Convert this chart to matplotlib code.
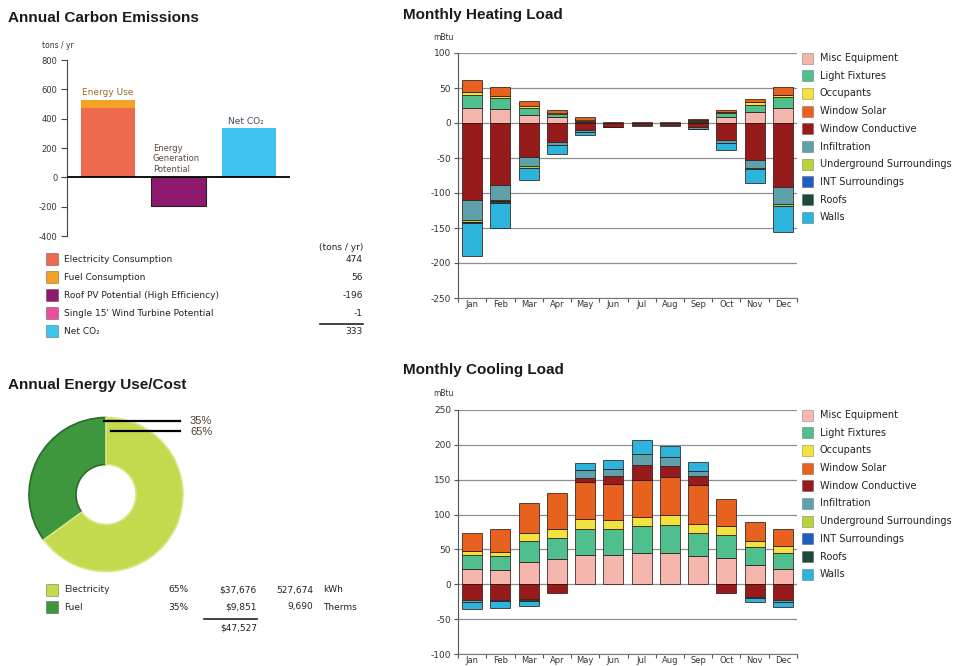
import numpy as np
import matplotlib
matplotlib.use("Agg")
import matplotlib.pyplot as plt
from matplotlib.patches import Rectangle

plt.rcParams['font.family'] = ['DejaVu Sans']
plt.rcParams['axes.unicode_minus'] = False

W, H = 965, 666

# ------------------------------
# Carbon emissions data
# ------------------------------
carbon_items = ["Electricity Consumption", "Fuel Consumption",
                "Roof PV Potential (High Efficiency)",
                "Single 15' Wind Turbine Potential", "Net CO\u2082"]
carbon_values = [474, 56, -196, -1, 333]
carbon_colors = ["#ee6a4e", "#f4a126", "#8e1a70", "#e84f9c", "#3fc3f1"]

# ------------------------------
# Energy use / cost data
# ------------------------------
energy_names = ["Electricity", "Fuel"]
energy_share = [65, 35]
energy_cost = ["$37,676", "$9,851"]
energy_amount = ["527,674", "9,690"]
energy_units = ["kWh", "Therms"]
energy_total = "$47,527"
energy_colors = ["#c4da4e", "#3f973d"]

# ------------------------------
# Monthly loads (mBtu)
# ------------------------------
months = ["Jan", "Feb", "Mar", "Apr", "May", "Jun",
          "Jul", "Aug", "Sep", "Oct", "Nov", "Dec"]
load_names = ["Misc Equipment", "Light Fixtures", "Occupants", "Window Solar",
              "Window Conductive", "Infiltration", "Underground Surroundings",
              "INT Surroundings", "Roofs", "Walls"]
load_colors = ["#f5b6ae", "#4fbf8d", "#f1e23e", "#e8621f", "#981b1b",
               "#5fa1ab", "#b8d43b", "#1f5dc0", "#1e4a3c", "#2db4dc"]

heat_misc = [22, 20, 12, 8, 2, 2, 1, 1, 2, 9, 16, 22]
heat_light = [18, 16, 10, 5, 1, 0, 0, 0, 1, 6, 10, 15]
heat_occ = [4, 3, 3, 2, 2, 0, 0, 0, 1, 1, 4, 3]
heat_solar = [18, 12, 6, 4, 3, 0, 0, 0, 2, 3, 5, 11]
heat_cond = [-110, -88, -48, -27, -10, -5, -3, -3, -6, -24, -53, -92]
heat_infil = [-28, -22, -14, -4, -3, -1, -1, -1, -2, -4, -11, -24]
heat_ground = [-3, -2, -2, 0, 0, 0, 0, 0, 0, 0, -2, -2]
heat_int = [0, 0, 0, 0, 0, 0, 0, 0, 0, 0, 0, 0]
heat_roofs = [-2, -2, 0, 0, 0, 0, 0, 0, 0, 0, 0, 0]
heat_walls = [-47, -36, -18, -13, -4, 0, 0, 0, -1, -10, -20, -37]

cool_misc = [22, 20, 32, 36, 42, 42, 45, 45, 41, 37, 28, 22]
cool_light = [20, 20, 30, 31, 38, 38, 38, 40, 33, 34, 25, 23]
cool_occ = [6, 7, 11, 12, 13, 12, 14, 14, 13, 12, 9, 10]
cool_solar = [26, 32, 43, 52, 54, 52, 53, 55, 56, 39, 27, 25]
cool_cond = [-22, -22, -21, -13, 5, 11, 21, 15, 12, -13, -18, -22]
cool_infil = [-4, -2, -1, 0, 12, 10, 16, 14, 7, 0, -2, -3]
cool_ground = [0, 0, -2, 0, 0, 0, 0, 0, 0, 0, 0, 0]
cool_int = [0, 0, 0, 0, 0, 0, 0, 0, 0, 0, 0, 0]
cool_roofs = [0, 0, 0, 0, 0, 1, 0, 0, 0, 0, 0, 0]
cool_walls = [-9, -10, -7, 0, 10, 12, 20, 16, 13, 0, -5, -7]

heating = [heat_misc, heat_light, heat_occ, heat_solar, heat_cond,
           heat_infil, heat_ground, heat_int, heat_roofs, heat_walls]
cooling = [cool_misc, cool_light, cool_occ, cool_solar, cool_cond,
           cool_infil, cool_ground, cool_int, cool_roofs, cool_walls]


def px_box(left, top, right, bottom):
    return [left / W, 1 - bottom / H, (right - left) / W, (bottom - top) / H]


fig = plt.figure(figsize=(W / 100, H / 100), dpi=100)
fig.patch.set_facecolor("white")

# ------------------------------
# Annual carbon emissions bars
# ------------------------------
ax_c = fig.add_axes(px_box(67, 60, 290, 236))
xc = np.arange(3)
bw = 0.77
ax_c.bar(xc[0], carbon_values[0], bw, color=carbon_colors[0], zorder=2)
ax_c.bar(xc[0], carbon_values[1], bw, bottom=carbon_values[0],
         color=carbon_colors[1], zorder=2)
ax_c.bar(xc[1], carbon_values[2], bw, color=carbon_colors[2],
         edgecolor="#222222", linewidth=0.8, zorder=2)
ax_c.bar(xc[1], carbon_values[3], bw, bottom=carbon_values[2],
         color=carbon_colors[3], zorder=2)
ax_c.bar(xc[2], carbon_values[4], bw, color=carbon_colors[4], zorder=2)
ax_c.axhline(0, color="black", linewidth=1.3, zorder=3)
ax_c.set_xlim(-0.58, 2.58)
ax_c.set_ylim(-400, 800)
ax_c.set_yticks(range(-400, 801, 200))
ax_c.set_xticks([])
for s in ["top", "right", "bottom"]:
    ax_c.spines[s].set_visible(False)
ax_c.spines["left"].set_color("#444444")
ax_c.tick_params(axis="y", labelsize=6, length=4, width=0.8,
                 colors="#444444", labelcolor="#333333", pad=3)

ax_c.text(xc[0], carbon_values[0] + carbon_values[1] + 18, "Energy Use",
          ha="center", va="bottom", fontsize=6.5, color="#9a6b22")
ax_c.text(xc[1] - bw / 2 + 0.02, 25, "Energy\nGeneration\nPotential",
          ha="left", va="bottom", fontsize=6, color="#5b4b3b",
          linespacing=1.2)
ax_c.text(xc[2] - 0.05, carbon_values[4] + 18, "Net CO\u2082",
          ha="center", va="bottom", fontsize=6.5, color="#3b4a5a")

# ------------------------------
# Annual energy use donut
# ------------------------------
ax_d = fig.add_axes(px_box(26, 414.5, 186, 574.5))
wedges, _ = ax_d.pie([energy_share[1], energy_share[0]],
                     colors=[energy_colors[1], energy_colors[0]],
                     startangle=90, counterclock=True, radius=77,
                     wedgeprops=dict(width=47, linewidth=1.2))
wedges[0].set_edgecolor("#2c6a2c")
wedges[1].set_edgecolor("#d6e88a")
ax_d.set_xlim(-80, 80)
ax_d.set_ylim(-80, 80)
ax_d.set_aspect("equal")
ax_d.axis("off")


# ------------------------------
# Monthly load charts
# ------------------------------
def load_chart(box, series, ymin, ymax):
    ax = fig.add_axes(px_box(*box))
    x = np.arange(len(months))
    pos = np.zeros(len(months))
    neg = np.zeros(len(months))
    for vals, col in zip(series, load_colors):
        v = np.array(vals, dtype=float)
        base = np.where(v >= 0, pos, neg)
        keep = v != 0
        ax.bar(x[keep], v[keep], 0.7, bottom=base[keep], color=col,
               edgecolor=(0.15, 0.08, 0.08, 0.75), linewidth=0.7, zorder=3)
        pos = pos + np.clip(v, 0, None)
        neg = neg + np.clip(v, None, 0)
    ax.set_xlim(-0.5, len(months) - 0.5)
    ax.set_ylim(ymin, ymax)
    ax.set_yticks(range(ymin, ymax + 1, 50))
    ax.yaxis.grid(True, color="#8f8f8f", linewidth=0.9, zorder=0)
    ax.set_axisbelow(True)
    ax.set_xticks(x)
    ax.set_xticklabels(months)
    ax.set_xticks(np.arange(-0.5, len(months), 1), minor=True)
    ax.tick_params(axis="x", which="major", length=0, labelsize=6,
                   labelcolor="#333333", pad=1.5)
    ax.tick_params(axis="x", which="minor", length=3, width=0.8,
                   color="#555555")
    ax.tick_params(axis="y", labelsize=6.5, length=3, width=0.8,
                   colors="#555555", labelcolor="#333333", pad=2)
    for s in ["top", "right"]:
        ax.spines[s].set_visible(False)
    ax.spines["left"].set_color("#555555")
    ax.spines["bottom"].set_color("#777777")
    return ax


load_chart((458, 53, 797, 298), heating, -250, 100)
load_chart((458, 410, 797, 654), cooling, -100, 250)

# ------------------------------
# Titles, tables and legends (pixel overlay)
# ------------------------------
ov = fig.add_axes([0, 0, 1, 1])
ov.set_xlim(0, W)
ov.set_ylim(H, 0)
ov.axis("off")

title_kw = dict(fontsize=11, fontweight="bold", color="#1a1a1a",
                va="center", ha="left", family="Liberation Sans")
ov.text(8, 18, "Annual Carbon Emissions", **title_kw)
ov.text(8, 385, "Annual Energy Use/Cost", **title_kw)
ov.text(403, 15, "Monthly Heating Load", **title_kw)
ov.text(403, 370, "Monthly Cooling Load", **title_kw)

small = dict(fontsize=5.5, color="#333333", va="center")
ov.text(42, 45, "tons / yr", ha="left", **small)
ov.text(433, 38, "mBtu", ha="left", **small)
ov.text(433, 393, "mBtu", ha="left", **small)

# carbon table
ov.text(363, 247, "(tons / yr)", ha="right", fontsize=6.5, color="#222222",
        va="center")
for i, (name, val, col) in enumerate(zip(carbon_items, carbon_values,
                                         carbon_colors)):
    y = 259 + i * 18.1
    ov.add_patch(Rectangle((46, y - 6), 12, 12, facecolor=col,
                           edgecolor="#00000055", linewidth=0.6))
    ov.text(64, y, name, ha="left", fontsize=6.5, color="#222222",
            va="center")
    ov.text(363, y, f"{val:,}", ha="right", fontsize=6.5, color="#222222",
            va="center")
ov.plot([320, 363], [324, 324], color="#222222", linewidth=1.2)

# donut leader lines
ov.plot([104, 180], [420.5, 420.5], color="black", linewidth=1.6)
ov.plot([111, 180], [431, 431], color="black", linewidth=1.6)
ov.text(190, 420.5, f"{energy_share[1]}%", ha="left", va="center",
        fontsize=8, color="#4e3e2a", family="Liberation Sans")
ov.text(190, 432, f"{energy_share[0]}%", ha="left", va="center",
        fontsize=8, color="#4e3e2a", family="Liberation Sans")

# energy table
for i in range(len(energy_names)):
    y = 590 + i * 17
    ov.add_patch(Rectangle((46, y - 6), 12, 12, facecolor=energy_colors[i],
                           edgecolor="#00000055", linewidth=0.6))
    ov.text(64, y, energy_names[i], ha="left", fontsize=6.5,
            color="#222222", va="center")
    ov.text(168, y, f"{energy_share[i]}%", ha="left", fontsize=6.5,
            color="#222222", va="center")
    ov.text(257, y, energy_cost[i], ha="right", fontsize=6.5,
            color="#222222", va="center")
    ov.text(313, y, energy_amount[i], ha="right", fontsize=6.5,
            color="#222222", va="center")
    ov.text(323, y, energy_units[i], ha="left", fontsize=6.5,
            color="#222222", va="center")
ov.plot([204, 257], [619, 619], color="#222222", linewidth=1.2)
ov.text(257, 628, energy_total, ha="right", fontsize=6.5, color="#222222",
        va="center")

# load legends
for y0 in (58, 415):
    for i, (name, col) in enumerate(zip(load_names, load_colors)):
        y = y0 + i * 17.7
        ov.add_patch(Rectangle((802, y - 5.5), 11, 11, facecolor=col,
                               edgecolor="#00000044", linewidth=0.6))
        ov.text(820, y, name, ha="left", va="center", fontsize=7,
                color="#222222")

fig.savefig("out.png", dpi=100)
